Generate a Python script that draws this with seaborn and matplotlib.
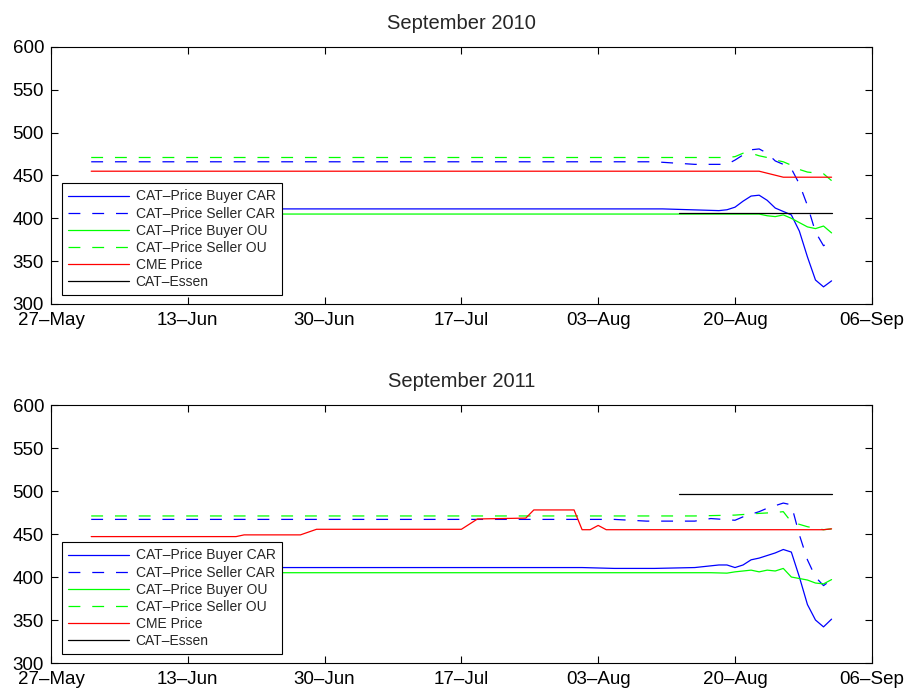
import pandas as pd
import matplotlib
matplotlib.use("Agg")
import matplotlib.pyplot as plt
import matplotlib.dates as mdates
import seaborn as sns

# series labels (legend order)
series_names = ["CAT–Price Buyer CAR", "CAT–Price Seller CAR", "CAT–Price Buyer OU",
                "CAT–Price Seller OU", "CME Price", "CAT–Essen"]

# ---- September 2010 ----
top_buyer_car_dates = ["06-01", "08-11", "08-18", "08-19", "08-20", "08-21", "08-22", "08-23", "08-24",
                       "08-25", "08-26", "08-27", "08-28", "08-29", "08-30", "08-31", "09-01"]
top_buyer_car_vals = [411, 411, 409, 410, 413, 420, 426, 427, 421, 412, 408, 404, 385, 355, 328, 320, 327]

top_seller_car_dates = ["06-01", "08-10", "08-15", "08-19", "08-20", "08-21", "08-22", "08-23", "08-24",
                        "08-25", "08-26", "08-27", "08-28", "08-29", "08-30", "08-31", "09-01"]
top_seller_car_vals = [466, 466, 463, 463, 468, 474, 480, 481, 476, 467, 463, 458, 440, 415, 384, 368, 374]

top_buyer_ou_dates = ["06-01", "08-23", "08-24", "08-25", "08-26", "08-27", "08-28", "08-29",
                      "08-30", "08-31", "09-01"]
top_buyer_ou_vals = [405, 405, 403, 402, 404, 400, 395, 390, 388, 391, 383]

top_seller_ou_dates = ["06-01", "08-19", "08-20", "08-21", "08-22", "08-23", "08-24", "08-25",
                       "08-26", "08-27", "08-28", "08-29", "08-30", "08-31", "09-01"]
top_seller_ou_vals = [471, 471, 472, 476, 476, 473, 471, 468, 466, 462, 457, 454, 453, 452, 444]

top_cme_dates = ["06-01", "08-23", "08-26", "09-01"]
top_cme_vals = [455, 455, 448, 448]

top_essen_dates = ["08-13", "09-01"]
top_essen_vals = [406, 406]

# ---- September 2011 ----
bot_buyer_car_dates = ["06-01", "08-01", "08-05", "08-10", "08-15", "08-18", "08-19", "08-20", "08-21",
                       "08-22", "08-23", "08-24", "08-25", "08-26", "08-27", "08-28", "08-29", "08-30",
                       "08-31", "09-01"]
bot_buyer_car_vals = [411, 411, 410, 410, 411, 414, 414, 411, 414, 420, 422, 425, 428, 432, 429,
                      400, 368, 350, 342, 351]

bot_seller_car_dates = ["06-01", "08-05", "08-09", "08-15", "08-17", "08-20", "08-21", "08-23", "08-24",
                        "08-25", "08-26", "08-27", "08-28", "08-29", "08-30", "08-31", "09-01"]
bot_seller_car_vals = [467, 467, 465, 465, 468, 466, 470, 476, 480, 483, 486, 484, 449, 420, 400, 390, 397]

bot_buyer_ou_dates = ["06-01", "08-17", "08-19", "08-20", "08-22", "08-23", "08-24", "08-25",
                      "08-26", "08-27", "08-29", "08-30", "08-31", "09-01"]
bot_buyer_ou_vals = [405, 405, 404.5, 406, 408, 406, 408, 407, 410, 400, 396.5, 393, 392, 397]

bot_seller_ou_dates = ["06-01", "08-15", "08-20", "08-23", "08-25", "08-26", "08-27", "08-29",
                       "08-31", "09-01"]
bot_seller_ou_vals = [471, 471, 472, 474, 475, 476, 464, 458.5, 455, 456]

bot_cme_dates = ["06-01", "06-19", "06-20", "06-27", "06-29", "07-17", "07-19", "07-25", "07-26",
                 "07-31", "08-01", "08-02", "08-03", "08-04", "08-31", "09-01"]
bot_cme_vals = [447, 447, 449, 449, 455.5, 455.5, 467.5, 468.5, 478, 478, 455, 455, 460, 455, 455, 456]

bot_essen_dates = ["08-13", "09-01"]
bot_essen_vals = [497, 497]

line_colors = ["#0000ff", "#0000ff", "#00ff00", "#00ff00", "#ff0000", "#000000"]
line_dashes = ["", (9.5, 9.5), "", (9.5, 9.5), "", ""]


def make_frame(year, date_lists, val_lists):
    rows = []
    for name, dates, vals in zip(series_names, date_lists, val_lists):
        for d, v in zip(dates, vals):
            rows.append({"date": pd.Timestamp(f"{year}-{d}"), "price": v, "series": name})
    return pd.DataFrame(rows)


def draw_panel(ax, year, df):
    sns.lineplot(data=df, x="date", y="price", hue="series", style="series",
                 hue_order=series_names, style_order=series_names,
                 palette=dict(zip(series_names, line_colors)),
                 dashes=dict(zip(series_names, line_dashes)),
                 estimator=None, sort=True, linewidth=0.9, ax=ax)
    start = pd.Timestamp(f"{year}-05-27")
    ax.set_xlim(start, pd.Timestamp(f"{year}-09-06"))
    ax.set_xticks(pd.date_range(start, periods=7, freq="17D"))
    ax.xaxis.set_major_formatter(mdates.DateFormatter("%d–%b"))
    ax.set_ylim(300, 600)
    ax.set_yticks(range(300, 601, 50))
    ax.set_xlabel("")
    ax.set_ylabel("")
    ax.set_title(f"September {year}", fontsize=14.5, pad=13)
    ax.tick_params(direction="in", top=True, right=True, length=5, width=0.8,
                   labelsize=13.5, colors="black")
    ax.tick_params(axis="x", pad=6)
    ax.tick_params(axis="y", pad=5)
    for sp in ax.spines.values():
        sp.set_visible(True)
        sp.set_color("black")
        sp.set_linewidth(0.8)
    sns.move_legend(ax, "lower left", bbox_to_anchor=(0.0134, 0.035), title=None,
                    frameon=True, fancybox=False, framealpha=1, edgecolor="black",
                    fontsize=10, handlelength=4.4, handletextpad=0.45,
                    labelspacing=0.22, borderpad=0.45, borderaxespad=0)
    leg = ax.get_legend()
    leg.get_frame().set_linewidth(0.8)
    for line in leg.get_lines():
        line.set_linewidth(0.9)


sns.set_theme(style="ticks")
plt.rcParams["font.family"] = ["Liberation Sans", "DejaVu Sans"]

fig = plt.figure(figsize=(9.07, 6.92), dpi=100)
ax_top = fig.add_axes([0.0562, 0.5607, 0.905, 0.3714])
ax_bot = fig.add_axes([0.0562, 0.0419, 0.905, 0.3728])

top_df = make_frame(2010,
                    [top_buyer_car_dates, top_seller_car_dates, top_buyer_ou_dates,
                     top_seller_ou_dates, top_cme_dates, top_essen_dates],
                    [top_buyer_car_vals, top_seller_car_vals, top_buyer_ou_vals,
                     top_seller_ou_vals, top_cme_vals, top_essen_vals])
bot_df = make_frame(2011,
                    [bot_buyer_car_dates, bot_seller_car_dates, bot_buyer_ou_dates,
                     bot_seller_ou_dates, bot_cme_dates, bot_essen_dates],
                    [bot_buyer_car_vals, bot_seller_car_vals, bot_buyer_ou_vals,
                     bot_seller_ou_vals, bot_cme_vals, bot_essen_vals])

draw_panel(ax_top, 2010, top_df)
draw_panel(ax_bot, 2011, bot_df)

fig.savefig("out.png", dpi=100)
